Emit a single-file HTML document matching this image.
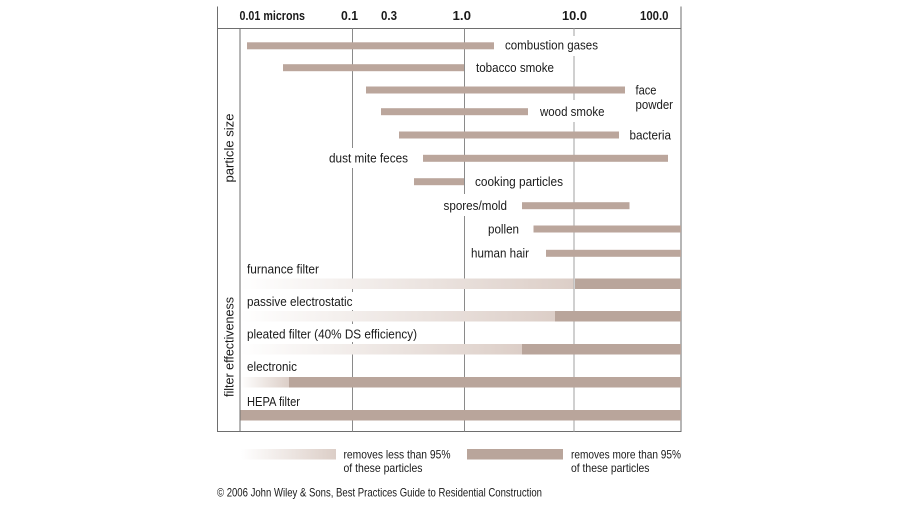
<!DOCTYPE html>
<html><head><meta charset="utf-8"><style>
html,body{margin:0;padding:0;background:#fff;}
svg{display:block;}
text{font-family:"Liberation Sans",Arial,sans-serif;fill:#1a1a1a;}
</style></head><body>
<svg width="900" height="506" viewBox="0 0 900 506" xmlns="http://www.w3.org/2000/svg">
<defs>
<linearGradient id="g1" x1="0" y1="0" x2="1" y2="0">
<stop offset="0" stop-color="#ffffff"/>
<stop offset="1" stop-color="#dccec7"/>
</linearGradient>
</defs>
<rect width="900" height="506" fill="#fff"/>

<!-- frame -->
<line x1="217.5" y1="6.5" x2="217.5" y2="431.5" stroke="#6e6e6e" stroke-width="1"/>
<line x1="681" y1="6.5" x2="681" y2="431.5" stroke="#6e6e6e" stroke-width="1"/>
<line x1="217" y1="28.5" x2="681.5" y2="28.5" stroke="#6e6e6e" stroke-width="1"/>
<line x1="217" y1="431.5" x2="681.5" y2="431.5" stroke="#6e6e6e" stroke-width="1"/>
<line x1="240" y1="28.5" x2="240" y2="431.5" stroke="#6e6e6e" stroke-width="1"/>

<!-- gridlines -->
<line x1="352.5" y1="28.5" x2="352.5" y2="431.5" stroke="#8a8a8a" stroke-width="1"/>
<line x1="464.5" y1="28.5" x2="464.5" y2="431.5" stroke="#8a8a8a" stroke-width="1"/>
<line x1="574" y1="28.5" x2="574" y2="431.5" stroke="#b0b0b0" stroke-width="1.2"/>

<!-- header -->
<g font-size="12.5" font-weight="bold">
<text x="239.5" y="20" textLength="65.5" lengthAdjust="spacingAndGlyphs">0.01 microns</text>
<text x="341" y="20" textLength="17" lengthAdjust="spacingAndGlyphs">0.1</text>
<text x="381" y="20" textLength="16" lengthAdjust="spacingAndGlyphs">0.3</text>
<text x="452.5" y="20" textLength="18.5" lengthAdjust="spacingAndGlyphs">1.0</text>
<text x="562" y="20" textLength="25" lengthAdjust="spacingAndGlyphs">10.0</text>
<text x="640" y="20" textLength="28.5" lengthAdjust="spacingAndGlyphs">100.0</text>
</g>

<!-- label white backgrounds -->
<g fill="#fff">
<rect x="502" y="36" width="99" height="20"/>
<rect x="537" y="100" width="70" height="22"/>
<rect x="326" y="148" width="85" height="20"/>
<rect x="440" y="194" width="70" height="22"/>
<rect x="244" y="292" width="112" height="18"/>
<rect x="244" y="324" width="176" height="18"/>
</g>

<!-- particle bars -->
<g fill="#bba69c">
<rect x="247" y="42.3" width="247" height="7"/>
<rect x="283" y="64.2" width="181" height="7"/>
<rect x="366" y="86.5" width="259" height="7"/>
<rect x="381" y="108.2" width="147" height="7"/>
<rect x="399" y="131.5" width="220" height="7"/>
<rect x="423" y="154.8" width="245" height="7"/>
<rect x="414" y="178.2" width="50" height="7"/>
<rect x="522" y="202.2" width="107.5" height="7"/>
<rect x="533.5" y="225.5" width="147.5" height="7"/>
<rect x="546" y="249.8" width="135" height="7"/>
</g>

<!-- particle labels -->
<g font-size="12.8">
<text x="505" y="49.5" textLength="93" lengthAdjust="spacingAndGlyphs">combustion gases</text>
<text x="476" y="72" textLength="78" lengthAdjust="spacingAndGlyphs">tobacco smoke</text>
<text x="635.5" y="94.5" textLength="21" lengthAdjust="spacingAndGlyphs">face</text>
<text x="635.5" y="109" textLength="37.5" lengthAdjust="spacingAndGlyphs">powder</text>
<text x="540" y="116" textLength="64.5" lengthAdjust="spacingAndGlyphs">wood smoke</text>
<text x="629.5" y="139.5" textLength="41.5" lengthAdjust="spacingAndGlyphs">bacteria</text>
<text x="329" y="162.5" textLength="79" lengthAdjust="spacingAndGlyphs">dust mite feces</text>
<text x="475" y="186" textLength="88" lengthAdjust="spacingAndGlyphs">cooking particles</text>
<text x="443.5" y="210" textLength="63.5" lengthAdjust="spacingAndGlyphs">spores/mold</text>
<text x="488" y="233.5" textLength="31" lengthAdjust="spacingAndGlyphs">pollen</text>
<text x="471" y="257.5" textLength="58" lengthAdjust="spacingAndGlyphs">human hair</text>
</g>

<!-- filter bars -->
<rect x="240.5" y="278.5" width="333" height="10.5" fill="url(#g1)"/>
<rect x="575" y="278.5" width="106" height="10.5" fill="#b9a59b"/>
<rect x="240.5" y="311" width="314.5" height="10.5" fill="url(#g1)"/>
<rect x="555" y="311" width="126" height="10.5" fill="#b9a59b"/>
<rect x="240.5" y="344" width="281.5" height="10.5" fill="url(#g1)"/>
<rect x="522" y="344" width="159" height="10.5" fill="#b9a59b"/>
<rect x="240.5" y="377" width="48.5" height="10.5" fill="url(#g1)"/>
<rect x="289" y="377" width="392" height="10.5" fill="#b9a59b"/>
<rect x="240.5" y="410" width="440.5" height="10.5" fill="#b9a59b"/>

<!-- filter labels -->
<g font-size="12.8">
<text x="247" y="273.5" textLength="72" lengthAdjust="spacingAndGlyphs">furnance filter</text>
<text x="247" y="306" textLength="105.5" lengthAdjust="spacingAndGlyphs">passive electrostatic</text>
<text x="247" y="338.5" textLength="170" lengthAdjust="spacingAndGlyphs">pleated filter (40% DS efficiency)</text>
<text x="247" y="371" textLength="50" lengthAdjust="spacingAndGlyphs">electronic</text>
<text x="247" y="406" textLength="53" lengthAdjust="spacingAndGlyphs">HEPA filter</text>
</g>

<!-- vertical labels -->
<text font-size="12.8" text-anchor="middle" transform="translate(233.5,148) rotate(-90)" textLength="69" lengthAdjust="spacingAndGlyphs">particle size</text>
<text font-size="12.8" text-anchor="middle" transform="translate(233.5,347) rotate(-90)" textLength="100" lengthAdjust="spacingAndGlyphs">filter effectiveness</text>

<!-- legend -->
<rect x="241" y="449" width="95" height="10.5" fill="url(#g1)"/>
<rect x="467" y="449" width="96" height="10.5" fill="#b9a59b"/>
<g font-size="11.8">
<text x="343.5" y="458.5" textLength="107" lengthAdjust="spacingAndGlyphs">removes less than 95%</text>
<text x="343.5" y="472" textLength="79" lengthAdjust="spacingAndGlyphs">of these particles</text>
<text x="571" y="458.5" textLength="110" lengthAdjust="spacingAndGlyphs">removes more than 95%</text>
<text x="571" y="472" textLength="78.5" lengthAdjust="spacingAndGlyphs">of these particles</text>
</g>

<!-- copyright -->
<text x="217" y="496.5" font-size="11.8" textLength="325" lengthAdjust="spacingAndGlyphs">© 2006 John Wiley &amp; Sons, Best Practices Guide to Residential Construction</text>
</svg>
</body></html>
